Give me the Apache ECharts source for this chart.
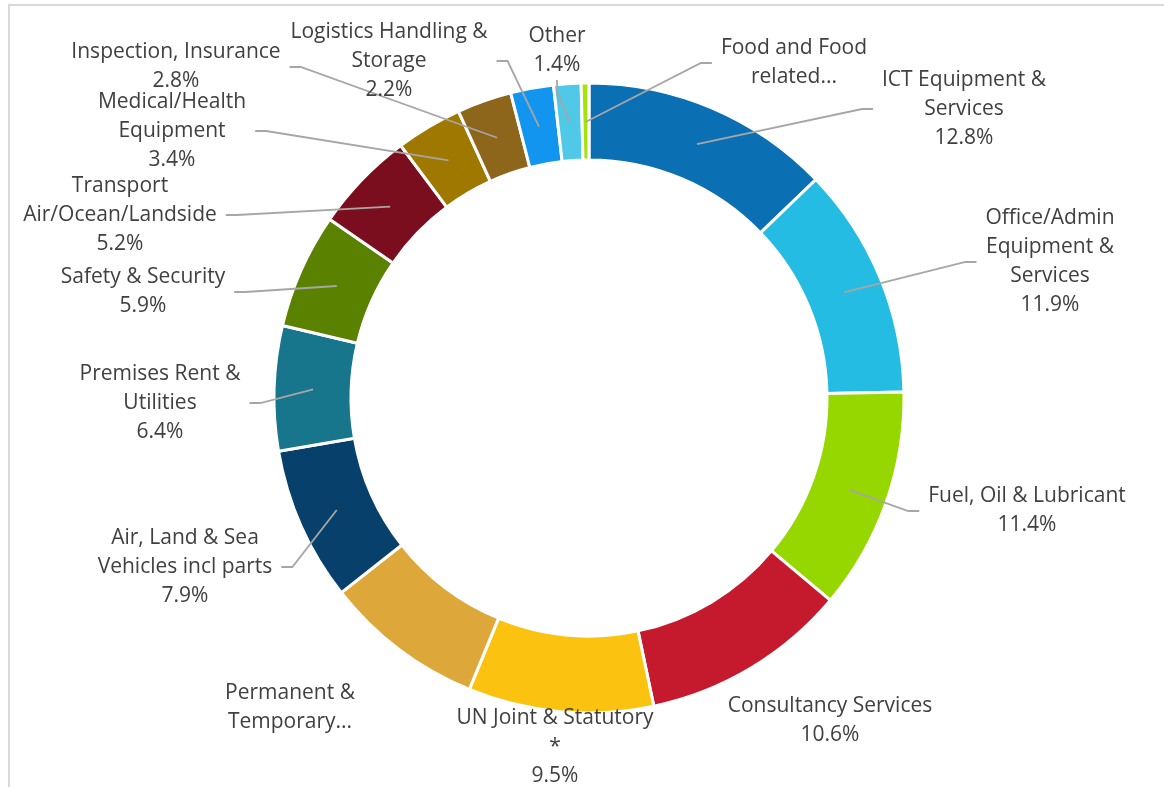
<!DOCTYPE html>
<html>
<head>
<meta charset="utf-8">
<script src="https://cdn.jsdelivr.net/npm/echarts/dist/echarts.min.js"></script>
<style>
html, body { margin: 0; padding: 0; background: #fff; }
#chart { width: 1164px; height: 787px; }
.frame {
  position: absolute; left: 8px; top: 4px; right: 0; bottom: 0;
  border-left: 2px solid #d9d9d9; border-top: 2px solid #d9d9d9;
  pointer-events: none;
}
</style>
</head>
<body>
<div id="chart"></div>
<div class="frame"></div>
<script>
// categories clockwise from 12 o'clock, label wrapping as in the source
const categories = [
  'ICT Equipment &\nServices',
  'Office/Admin\nEquipment &\nServices',
  'Fuel, Oil & Lubricant',
  'Consultancy Services',
  'UN Joint & Statutory\n*',
  'Permanent &\nTemporary...',
  'Air, Land & Sea\nVehicles incl parts',
  'Premises Rent &\nUtilities',
  'Safety & Security',
  'Transport\nAir/Ocean/Landside',
  'Medical/Health\nEquipment',
  'Inspection, Insurance',
  'Logistics Handling &\nStorage',
  'Other',
  'Food and Food\nrelated...'
]
const shares = [12.8, 11.9, 11.4, 10.6, 9.5, 8.2, 7.9, 6.4, 5.9, 5.2, 3.4, 2.8, 2.2, 1.4, 0.4]

const palette = [
  '#0b6fb4', '#25bce3', '#97d700', '#c51a2e', '#fbc20f', '#dea73a', '#07416b',
  '#17758c', '#5a8200', '#7a0e1e', '#9f7800', '#8d661b', '#1195ee', '#50c8e8', '#a8e10c'
]

// where each label block is centred (px), and which ones have no leader line
const labelSpots = [
  [964, 109], [1050, 262], [1027, 511], [830, 721], [555, 747], [290, 708], [185, 567],
  [160, 403], [143, 292], [120, 215], [172, 131], [176, 67], [389, 61], [557, 51], [794, 63]
]
const noLeader = [3, 4, 5]

const ringData = categories.map((name, i) => ({ name: name, value: shares[i] }))
const labelData = categories.map((name, i) => ({
  name: name,
  value: shares[i],
  labelLine: { show: noLeader.indexOf(i) < 0 }
}))

const center = [589, 398]
const myChart = echarts.init(document.getElementById('chart'))
myChart.setOption({
  animation: false,
  color: palette,
  series: [
    {
      type: 'pie',
      center: center,
      radius: [238, 315],
      startAngle: 90,
      silent: true,
      itemStyle: { borderColor: '#fff', borderWidth: 3 },
      label: { show: false },
      labelLine: { show: false },
      data: ringData
    },
    {
      // invisible pie whose outer edge sits mid-ring, so leaders start inside the slices
      type: 'pie',
      center: center,
      radius: [0, 276],
      startAngle: 90,
      silent: true,
      z: 3,
      avoidLabelOverlap: false,
      itemStyle: { color: 'rgba(0,0,0,0)', borderWidth: 0 },
      label: {
        show: true,
        position: 'outside',
        color: '#404040',
        fontFamily: 'Open Sans',
        fontSize: 21,
        lineHeight: 29,
        align: 'center',
        padding: [0, 9],
        formatter: (p) => p.name.endsWith('...') ? p.name : p.name + '\n' + p.value.toFixed(1) + '%'
      },
      labelLine: {
        show: true,
        length: 10,
        length2: 11,
        minTurnAngle: 0,
        lineStyle: { color: '#a6a6a6', width: 1.8 }
      },
      labelLayout: (params) => ({
        x: labelSpots[params.dataIndex][0],
        y: labelSpots[params.dataIndex][1],
        align: 'center',
        verticalAlign: 'middle'
      }),
      data: labelData
    }
  ]
})
</script>
</body>
</html>
